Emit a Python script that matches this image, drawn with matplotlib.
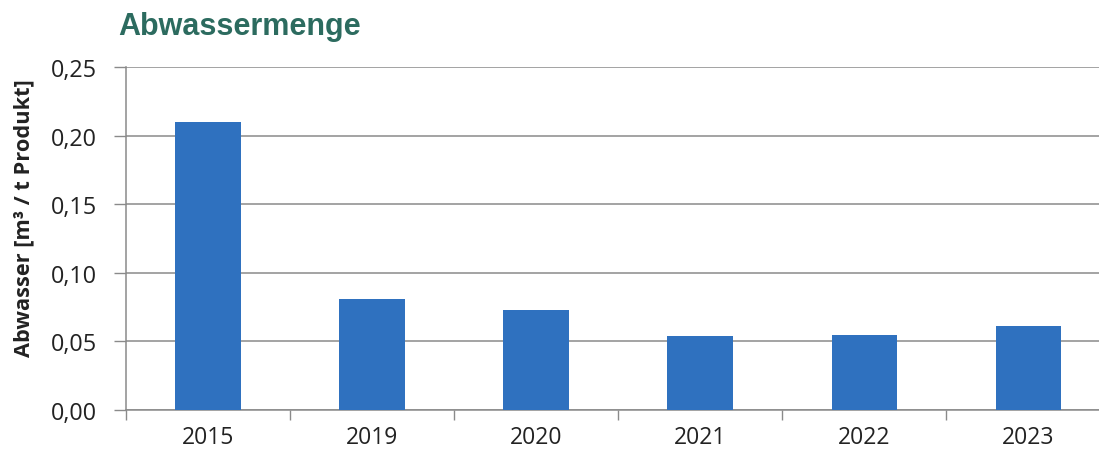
import matplotlib.pyplot as plt
from matplotlib.ticker import FuncFormatter, FixedLocator

years = ["2015", "2019", "2020", "2021", "2022", "2023"]
abwasser = [0.21, 0.081, 0.073, 0.054, 0.055, 0.061]
y_ticks = [0.0, 0.05, 0.10, 0.15, 0.20, 0.25]

BAR_COLOR = "#2f71bf"
GRID_COLOR = "#8a8a8a"
TITLE_COLOR = "#2c6b5f"
TEXT_COLOR = "#222222"

W, H = 1099, 452
fig = plt.figure(figsize=(W / 100, H / 100), dpi=100)
ax = fig.add_axes([126 / W, 41 / H, (W - 126) / W, (411 - 68) / H])

x = list(range(len(years)))
ax.bar(x, abwasser, width=0.4, color=BAR_COLOR, zorder=3)

ax.set_ylim(0, 0.25)
ax.set_xlim(-0.5, 5.43)
ax.set_yticks(y_ticks)
ax.yaxis.set_major_formatter(FuncFormatter(lambda v, _: f"{v:.2f}".replace(".", ",")))
ax.grid(axis="y", color=GRID_COLOR, linewidth=1.1, zorder=0)

# category labels in the middle, tick marks on the boundaries
ax.set_xticks(x)
ax.set_xticklabels(years)
ax.tick_params(axis="x", which="major", length=0, pad=11, labelsize=16.5, labelcolor=TEXT_COLOR)
ax.xaxis.set_minor_locator(FixedLocator([i - 0.5 for i in range(len(years))]))
ax.tick_params(axis="x", which="minor", length=7, width=1, color=GRID_COLOR, direction="out")
ax.tick_params(axis="y", length=9, width=1, color=GRID_COLOR, pad=12, labelsize=16.8,
               labelcolor=TEXT_COLOR)

for lab in ax.get_xticklabels() + ax.get_yticklabels():
    lab.set_family("Open Sans")

for side in ("top", "right"):
    ax.spines[side].set_visible(False)
for side in ("left", "bottom"):
    ax.spines[side].set_color(GRID_COLOR)
    ax.spines[side].set_linewidth(1.1)

fig.text(24 / W, 1 - 218 / H, "Abwasser [m³ / t Produkt]", family="Open Sans",
         fontweight="bold", fontsize=15.7, color=TEXT_COLOR, rotation=90,
         ha="center", va="center")

fig.text(118 / W, 1 - 27 / H, "Abwassermenge", family="Liberation Sans", fontweight="bold",
         fontsize=22, color=TITLE_COLOR, va="center", ha="left")

fig.savefig("out.png", dpi=100, facecolor="white")
